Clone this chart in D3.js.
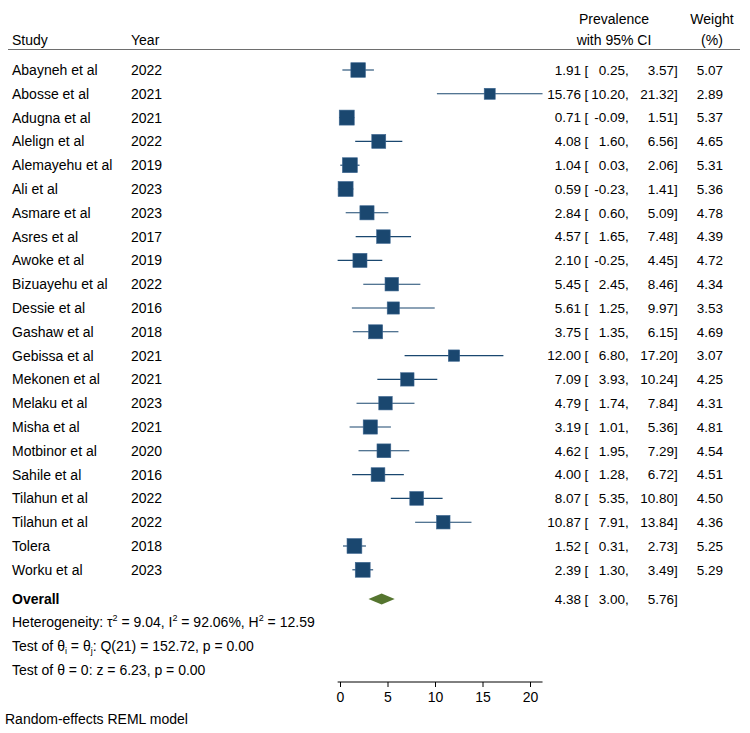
<!DOCTYPE html>
<html>
<head>
<meta charset="utf-8">
<script src="https://cdn.jsdelivr.net/npm/d3@7"></script>
<style>
  body { margin: 0; background: #fff; }
  text { font-family: "Liberation Sans", Arial, Helvetica, sans-serif; fill: #000; }
</style>
</head>
<body>
<svg id="chart" width="750" height="733"></svg>
<script>
const studies = ["Abayneh et al","Abosse et al","Adugna et al","Alelign et al","Alemayehu et al","Ali et al","Asmare et al","Asres et al","Awoke et al","Bizuayehu et al","Dessie et al","Gashaw et al","Gebissa et al","Mekonen et al","Melaku et al","Misha et al","Motbinor et al","Sahile et al","Tilahun et al","Tilahun et al","Tolera","Worku et al"];
const years = ["2022","2021","2021","2022","2019","2023","2023","2017","2019","2022","2016","2018","2021","2021","2023","2021","2020","2016","2022","2022","2018","2023"];
const estimates = [1.91,15.76,0.71,4.08,1.04,0.59,2.84,4.57,2.10,5.45,5.61,3.75,12.00,7.09,4.79,3.19,4.62,4.00,8.07,10.87,1.52,2.39];
const lowerCI = [0.25,10.20,-0.09,1.60,0.03,-0.23,0.60,1.65,-0.25,2.45,1.25,1.35,6.80,3.93,1.74,1.01,1.95,1.28,5.35,7.91,0.31,1.30];
const upperCI = [3.57,21.32,1.51,6.56,2.06,1.41,5.09,7.48,4.45,8.46,9.97,6.15,17.20,10.24,7.84,5.36,7.29,6.72,10.80,13.84,2.73,3.49];
const weights = [5.07,2.89,5.37,4.65,5.31,5.36,4.78,4.39,4.72,4.34,3.53,4.69,3.07,4.25,4.31,4.81,4.54,4.51,4.50,4.36,5.25,5.29];
const overall = {est: 4.38, lo: 3.00, hi: 5.76};
const axisTicks = [0, 5, 10, 15, 20];

const svg = d3.select("#chart");
const FS = 14;
const NFS = 13.5;
const navy = "#1a476f";
const green = "#55752f";

const x = d3.scaleLinear().domain([0, 20]).range([340, 530]);
const xMin = d3.min(lowerCI), xMax = d3.max(upperCI);
const rowY = d3.scaleLinear().domain([0, 1]).range([70, 93.8]);
const sizeScale = d3.scaleSqrt().domain([0, 5.37]).range([0, 15]);

// column anchors
const cEst = 581, cBr = 584.5, cLo = 625, cHi = 674, cW = 723;

// Header
const hdr = svg.append("g").attr("font-size", FS);
hdr.append("text").attr("x", 12).attr("y", 45).text("Study");
hdr.append("text").attr("x", 131).attr("y", 45).text("Year");
hdr.append("text").attr("x", 614).attr("y", 24).attr("text-anchor", "middle").text("Prevalence");
hdr.append("text").attr("x", 614).attr("y", 45).attr("text-anchor", "middle").text("with 95% CI");
hdr.append("text").attr("x", 712).attr("y", 24).attr("text-anchor", "middle").text("Weight");
hdr.append("text").attr("x", 712).attr("y", 45).attr("text-anchor", "middle").text("(%)");
svg.append("line").attr("x1", 8).attr("x2", 740).attr("y1", 49.5).attr("y2", 49.5)
  .attr("stroke", "#6e6e6e").attr("stroke-width", 1);

// Rows
const rows = svg.append("g").selectAll("g").data(studies.map((s, i) => i)).join("g")
  .attr("transform", i => `translate(0,${rowY(i)})`);

rows.append("line")
  .attr("x1", i => x(lowerCI[i])).attr("x2", i => x(upperCI[i]))
  .attr("y1", 0).attr("y2", 0)
  .attr("stroke", navy).attr("stroke-width", 1.1);
rows.append("rect")
  .attr("x", i => x(estimates[i]) - sizeScale(weights[i]) / 2)
  .attr("y", i => -sizeScale(weights[i]) / 2)
  .attr("width", i => sizeScale(weights[i]))
  .attr("height", i => sizeScale(weights[i]))
  .attr("fill", navy).attr("stroke", "#3d6690").attr("stroke-width", 0.6);

const fmt = v => v.toFixed(2);
const tg = rows.append("g").attr("font-size", FS);
tg.append("text").attr("x", 12).attr("dy", "0.36em").text(i => studies[i]);
tg.append("text").attr("x", 131).attr("dy", "0.36em").text(i => years[i]);
const ng = rows.append("g").attr("font-size", NFS);
ng.append("text").attr("x", cEst).attr("dy", "0.36em").attr("text-anchor", "end").text(i => fmt(estimates[i]));
ng.append("text").attr("x", cBr).attr("dy", "0.36em").text("[");
ng.append("text").attr("x", cLo).attr("dy", "0.36em").attr("text-anchor", "end").text(i => fmt(lowerCI[i]));
ng.append("text").attr("x", cLo).attr("dy", "0.36em").text(",");
ng.append("text").attr("x", cHi).attr("dy", "0.36em").attr("text-anchor", "end").text(i => fmt(upperCI[i]));
ng.append("text").attr("x", cHi).attr("dy", "0.36em").text("]");
ng.append("text").attr("x", cW).attr("dy", "0.36em").attr("text-anchor", "end").text(i => fmt(weights[i]));

// Overall
const oy = 599;
const og = svg.append("g").attr("transform", `translate(0,${oy})`).attr("font-size", FS);
og.append("text").attr("x", 12).attr("dy", "0.36em").attr("font-weight", "bold").text("Overall");
og.append("path")
  .attr("d", `M${x(overall.lo)},0 L${x(overall.est)},-5.5 L${x(overall.hi)},0 L${x(overall.est)},5.5 Z`)
  .attr("fill", green);
const ong = og.append("g").attr("font-size", NFS);
ong.append("text").attr("x", cEst).attr("dy", "0.36em").attr("text-anchor", "end").text(fmt(overall.est));
ong.append("text").attr("x", cBr).attr("dy", "0.36em").text("[");
ong.append("text").attr("x", cLo).attr("dy", "0.36em").attr("text-anchor", "end").text(fmt(overall.lo));
ong.append("text").attr("x", cLo).attr("dy", "0.36em").text(",");
ong.append("text").attr("x", cHi).attr("dy", "0.36em").attr("text-anchor", "end").text(fmt(overall.hi));
ong.append("text").attr("x", cHi).attr("dy", "0.36em").text("]");

// Heterogeneity text
const st = svg.append("g").attr("font-size", FS);
const t1 = st.append("text").attr("x", 12).attr("y", 627);
t1.append("tspan").text("Heterogeneity: τ");
t1.append("tspan").attr("font-size", 9).attr("dy", -6).text("2");
t1.append("tspan").attr("dy", 6).text(" = 9.04, I");
t1.append("tspan").attr("font-size", 9).attr("dy", -6).text("2");
t1.append("tspan").attr("dy", 6).text(" = 92.06%, H");
t1.append("tspan").attr("font-size", 9).attr("dy", -6).text("2");
t1.append("tspan").attr("dy", 6).text(" = 12.59");

const t2 = st.append("text").attr("x", 12).attr("y", 651);
t2.append("tspan").text("Test of θ");
t2.append("tspan").attr("font-size", 9).attr("dy", 3).text("i");
t2.append("tspan").attr("dy", -3).text(" = θ");
t2.append("tspan").attr("font-size", 9).attr("dy", 3).text("j");
t2.append("tspan").attr("dy", -3).text(": Q(21) = 152.72, p = 0.00");

st.append("text").attr("x", 12).attr("y", 675).text("Test of θ = 0: z = 6.23, p = 0.00");

// Axis
const axisY = 682;
const ax = svg.append("g").attr("transform", `translate(0,${axisY})`);
ax.append("line").attr("x1", x(xMin)).attr("x2", x(xMax)).attr("stroke", "#000").attr("stroke-width", 1);
const axis = d3.axisBottom(x).tickValues(axisTicks).tickSize(5).tickSizeOuter(0).tickFormat(d => String(d));
const axG = svg.append("g").attr("transform", `translate(0,${axisY})`).call(axis);
axG.select(".domain").remove();
axG.selectAll("text").attr("font-size", FS).attr("font-family", "Liberation Sans, Arial, sans-serif").attr("dy", "0.85em").attr("fill", "#000");
axG.selectAll("line").attr("stroke", "#000");

svg.append("text").attr("x", 5).attr("y", 724).attr("font-size", FS).text("Random-effects REML model");
</script>
</body>
</html>
